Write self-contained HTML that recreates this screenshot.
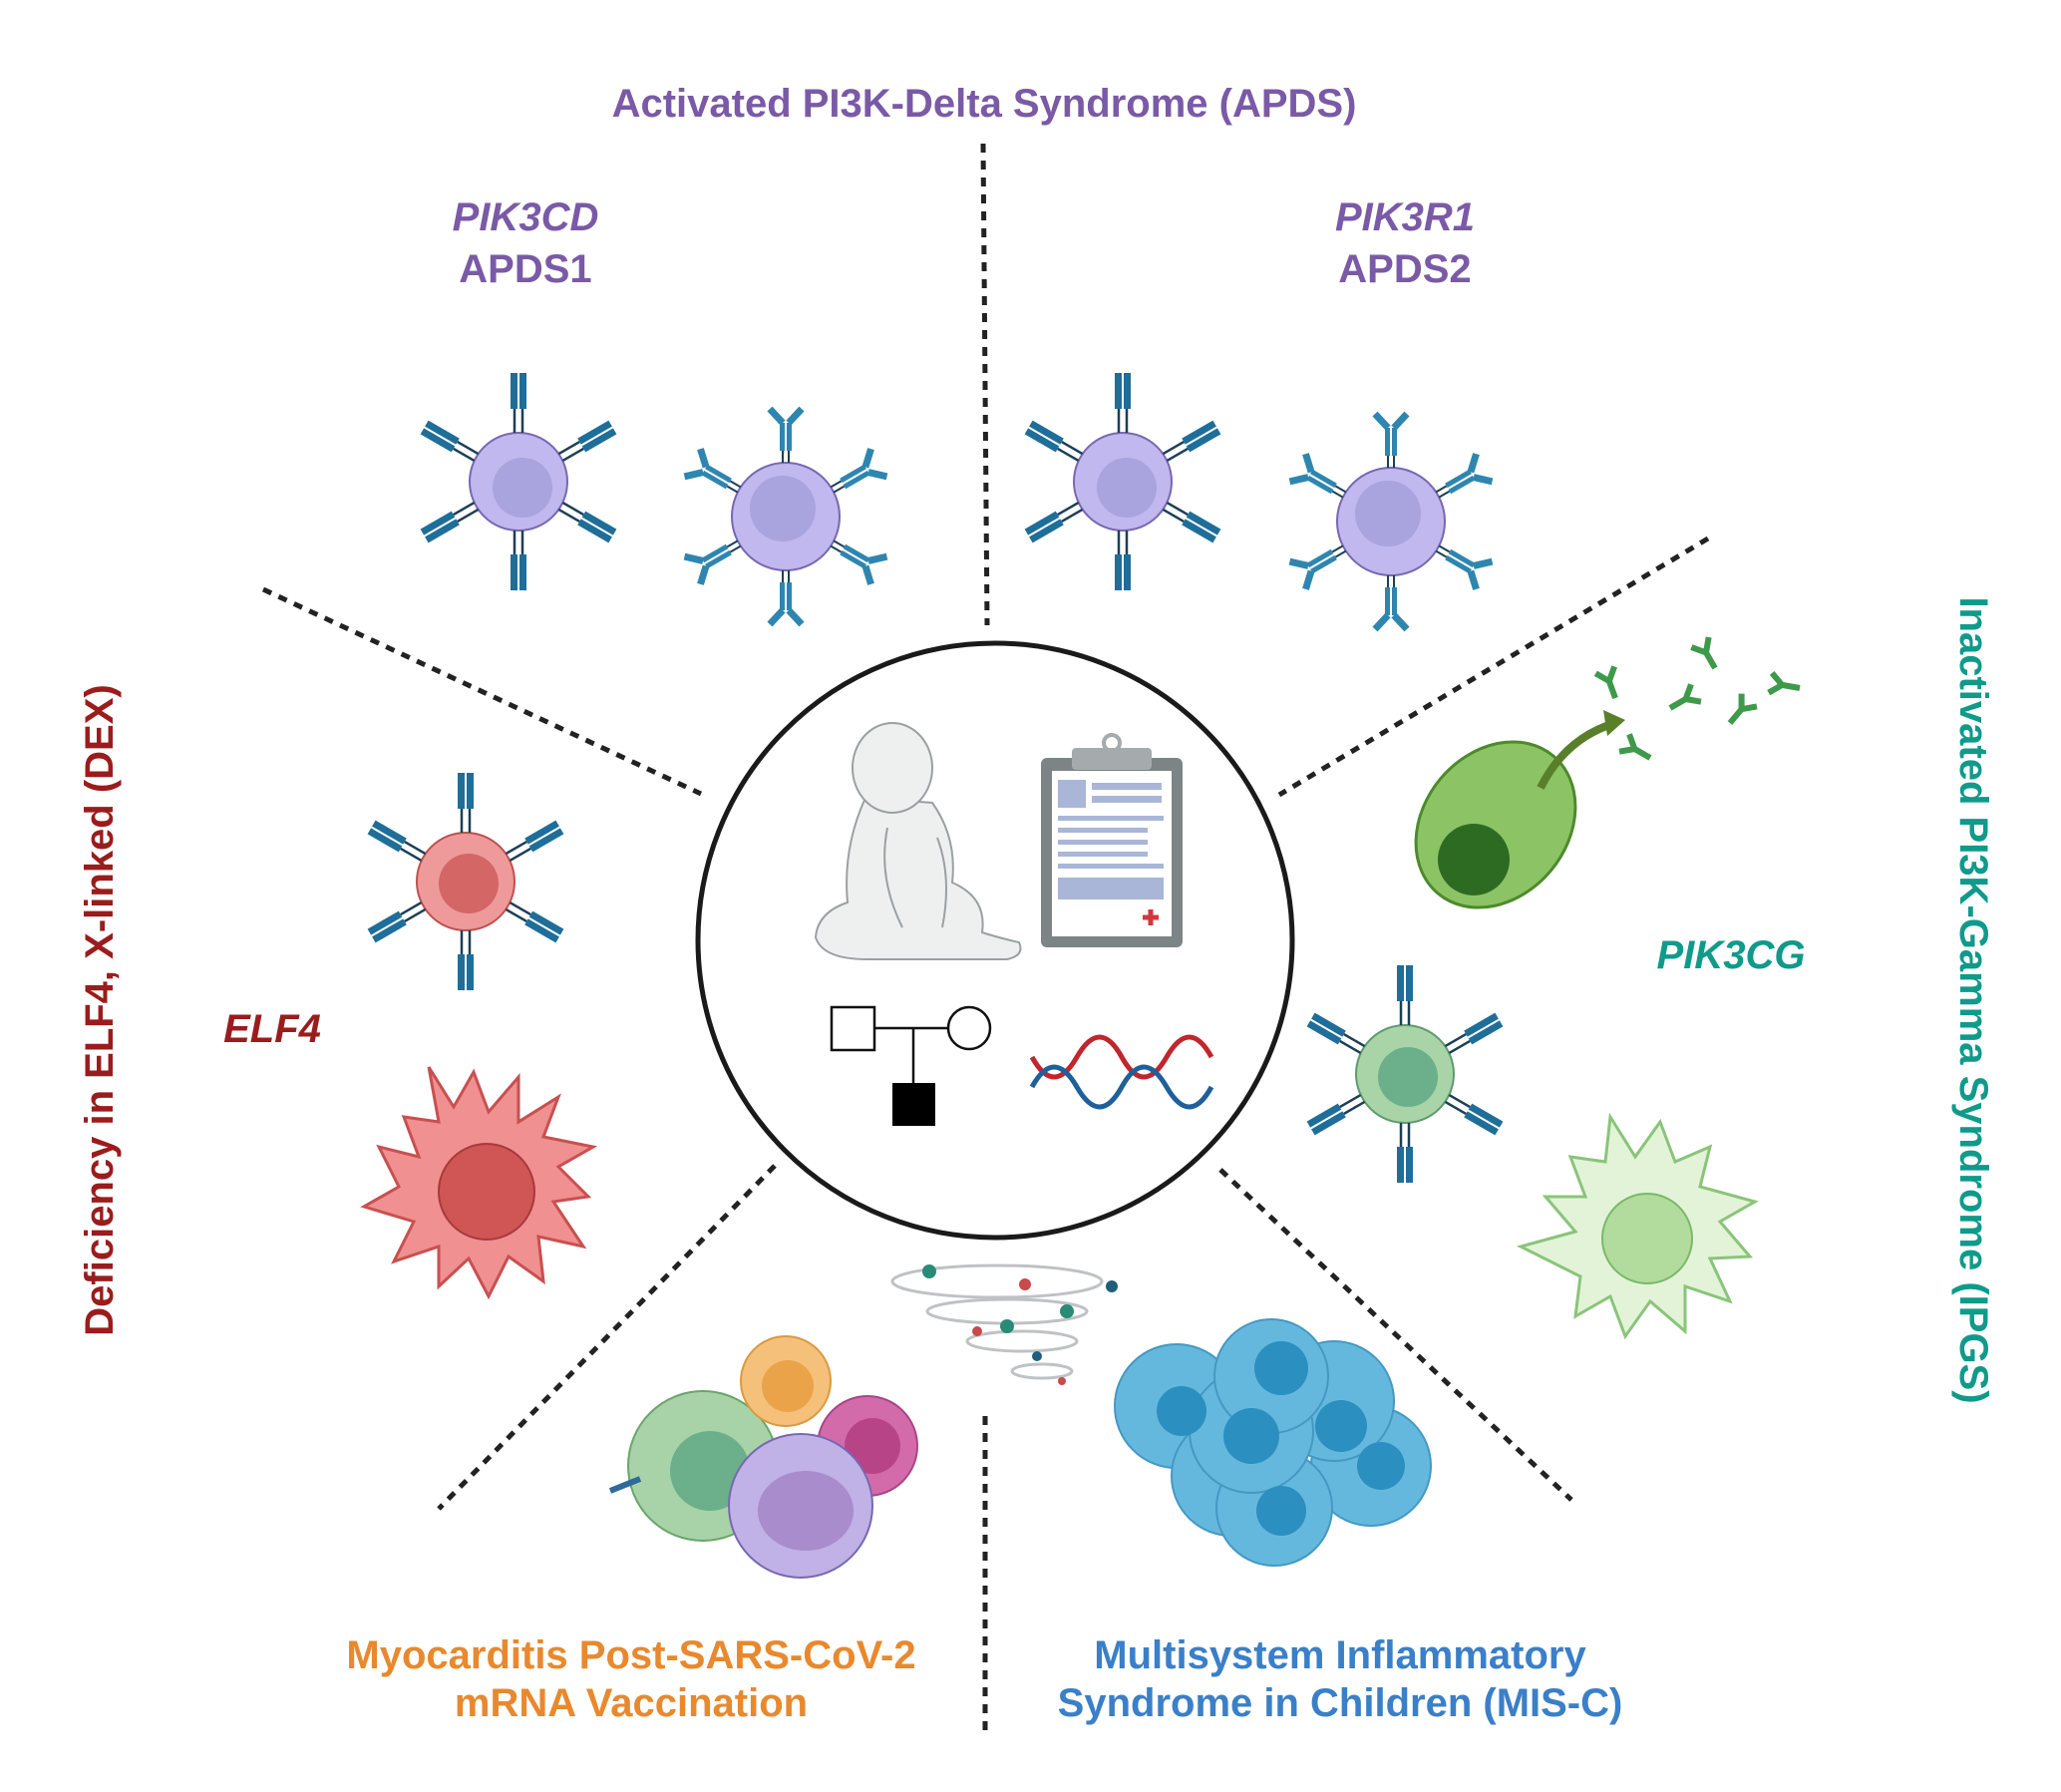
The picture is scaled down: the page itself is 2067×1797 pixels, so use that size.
<!DOCTYPE html>
<html><head><meta charset="utf-8"><style>
html,body{margin:0;padding:0;background:#fff}
svg{display:block}
text{font-family:"Liberation Sans",Arial,sans-serif;font-weight:bold}
</style></head><body>
<svg width="2067" height="1797" viewBox="0 0 2067 1797" xmlns="http://www.w3.org/2000/svg">
<defs>
<g id="abA">
 <line x1="-4" y1="0" x2="-4" y2="-24" stroke="#1d3f55" stroke-width="2.5"/>
 <line x1="4" y1="0" x2="4" y2="-24" stroke="#1d3f55" stroke-width="2.5"/>
 <rect x="-8" y="-60" width="7" height="36" fill="#1f6e99"/>
 <rect x="1" y="-60" width="7" height="36" fill="#1f6e99"/>
</g>
<g id="abB">
 <line x1="-3" y1="0" x2="-3" y2="-12" stroke="#1d3f55" stroke-width="2"/>
 <line x1="3" y1="0" x2="3" y2="-12" stroke="#1d3f55" stroke-width="2"/>
 <rect x="-6" y="-40" width="5" height="28" fill="#2e86b0"/>
 <rect x="1" y="-40" width="5" height="28" fill="#2e86b0"/>
 <path d="M-3,-40 L-16,-54 M3,-40 L16,-54" stroke="#2e86b0" stroke-width="7" fill="none"/>
</g>
<g id="abG">
 <path d="M0,0 L0,-18 M0,-18 L-10,-30 M0,-18 L10,-30" stroke="#3e9a4a" stroke-width="6" fill="none"/>
</g>
</defs>

<g stroke="#222" stroke-width="5" stroke-dasharray="9,8" fill="none">
<line x1="986" y1="144" x2="990" y2="627"/>
<line x1="988" y1="1420" x2="988" y2="1735"/>
<line x1="264" y1="591" x2="703" y2="796"/>
<line x1="1713" y1="540" x2="1283" y2="797"/>
<line x1="777" y1="1169" x2="440" y2="1513"/>
<line x1="1224" y1="1173" x2="1576" y2="1504"/>
</g>

<circle cx="998" cy="943" r="298" fill="#fff" stroke="#1a1a1a" stroke-width="5"/>

<!-- baby -->
<g fill="#eef0f0" stroke="#9aa0a2" stroke-width="2">
 <path d="M868,800 Q845,850 850,905 Q820,915 818,940 Q825,962 870,962 L1010,962 Q1028,958 1022,945 Q1000,940 985,935 Q990,900 955,885 Q960,840 935,805 Z"/>
 <ellipse cx="895" cy="770" rx="40" ry="45"/>
 <path d="M890,830 Q880,880 905,930 M940,840 Q955,880 945,930" fill="none"/>
</g>
<rect x="1044" y="760" width="142" height="190" rx="6" fill="#7d8486"/>
<rect x="1055" y="773" width="120" height="166" fill="#fff"/>
<rect x="1075" y="750" width="80" height="22" rx="4" fill="#a5aaac"/>
<circle cx="1115" cy="745" r="8" fill="none" stroke="#a5aaac" stroke-width="4"/>
<g fill="#a9b6d8">
<rect x="1061" y="782" width="28" height="28"/><rect x="1095" y="785" width="70" height="7"/><rect x="1095" y="798" width="70" height="7"/>
<rect x="1061" y="818" width="106" height="5"/><rect x="1061" y="830" width="90" height="5"/><rect x="1061" y="842" width="90" height="5"/><rect x="1061" y="854" width="90" height="5"/><rect x="1061" y="866" width="106" height="5"/>
<rect x="1061" y="880" width="106" height="22"/>
</g>
<path d="M1146,920 h16 M1154,912 v16" stroke="#d0393b" stroke-width="5"/>
<g stroke="#111" stroke-width="2.5" fill="none">
<rect x="834" y="1010" width="43" height="43" fill="#fff"/>
<circle cx="972" cy="1031" r="21" fill="#fff"/>
<line x1="877" y1="1031" x2="951" y2="1031"/>
<line x1="916" y1="1031" x2="916" y2="1086"/>
</g>
<rect x="895" y="1086" width="43" height="43" fill="#000"/>
<path d="M1035,1060 q22,40 45,0 t45,0 t45,0 t45,0" stroke="#c0262c" stroke-width="5" fill="none"/>
<path d="M1035,1090 q22,-40 45,0 t45,0 t45,0 t45,0" stroke="#1f5f9a" stroke-width="5" fill="none"/>

<g>
<circle cx="520" cy="483" r="49" fill="#c0b8ee" stroke="#7768b0" stroke-width="2"/>
<circle cx="524" cy="489" r="30" fill="#a9a3de"/>
<g transform="translate(520,483)"><g transform="rotate(0) translate(0,-49)"><use href="#abA"/></g><g transform="rotate(60) translate(0,-49)"><use href="#abA"/></g><g transform="rotate(120) translate(0,-49)"><use href="#abA"/></g><g transform="rotate(180) translate(0,-49)"><use href="#abA"/></g><g transform="rotate(240) translate(0,-49)"><use href="#abA"/></g><g transform="rotate(300) translate(0,-49)"><use href="#abA"/></g></g>
<circle cx="788" cy="518" r="54" fill="#c0b8ee" stroke="#7768b0" stroke-width="2"/>
<circle cx="785" cy="510" r="33" fill="#a9a3de"/>
<g transform="translate(788,518)"><g transform="rotate(0) translate(0,-54)"><use href="#abB"/></g><g transform="rotate(60) translate(0,-54)"><use href="#abB"/></g><g transform="rotate(120) translate(0,-54)"><use href="#abB"/></g><g transform="rotate(180) translate(0,-54)"><use href="#abB"/></g><g transform="rotate(240) translate(0,-54)"><use href="#abB"/></g><g transform="rotate(300) translate(0,-54)"><use href="#abB"/></g></g>
<circle cx="1126" cy="483" r="49" fill="#c0b8ee" stroke="#7768b0" stroke-width="2"/>
<circle cx="1130" cy="489" r="30" fill="#a9a3de"/>
<g transform="translate(1126,483)"><g transform="rotate(0) translate(0,-49)"><use href="#abA"/></g><g transform="rotate(60) translate(0,-49)"><use href="#abA"/></g><g transform="rotate(120) translate(0,-49)"><use href="#abA"/></g><g transform="rotate(180) translate(0,-49)"><use href="#abA"/></g><g transform="rotate(240) translate(0,-49)"><use href="#abA"/></g><g transform="rotate(300) translate(0,-49)"><use href="#abA"/></g></g>
<circle cx="1395" cy="523" r="54" fill="#c0b8ee" stroke="#7768b0" stroke-width="2"/>
<circle cx="1392" cy="515" r="33" fill="#a9a3de"/>
<g transform="translate(1395,523)"><g transform="rotate(0) translate(0,-54)"><use href="#abB"/></g><g transform="rotate(60) translate(0,-54)"><use href="#abB"/></g><g transform="rotate(120) translate(0,-54)"><use href="#abB"/></g><g transform="rotate(180) translate(0,-54)"><use href="#abB"/></g><g transform="rotate(240) translate(0,-54)"><use href="#abB"/></g><g transform="rotate(300) translate(0,-54)"><use href="#abB"/></g></g>
</g>

<circle cx="467" cy="884" r="49" fill="#ee9a9a" stroke="#c05050" stroke-width="2"/>
<circle cx="470" cy="886" r="30" fill="#d46666"/>
<g transform="translate(467,884)"><g transform="rotate(0) translate(0,-49)"><use href="#abA"/></g><g transform="rotate(60) translate(0,-49)"><use href="#abA"/></g><g transform="rotate(120) translate(0,-49)"><use href="#abA"/></g><g transform="rotate(180) translate(0,-49)"><use href="#abA"/></g><g transform="rotate(240) translate(0,-49)"><use href="#abA"/></g><g transform="rotate(300) translate(0,-49)"><use href="#abA"/></g></g>
<path d="M430,1070 L455,1110 L475,1075 L490,1115 L520,1080 L520,1125 L560,1100 L545,1140 L595,1150 L560,1170 L590,1200 L555,1205 L585,1250 L540,1240 L545,1285 L510,1260 L490,1300 L470,1262 L440,1290 L440,1250 L395,1265 L415,1225 L365,1210 L400,1190 L380,1150 L420,1160 L405,1120 L440,1125 Z" fill="#f09090" stroke="#c85050" stroke-width="3"/>
<circle cx="488" cy="1195" r="48" fill="#d05555" stroke="#a83a3a" stroke-width="2"/>

<ellipse cx="1500" cy="827" rx="72" ry="90" transform="rotate(40 1500 827)" fill="#8cc465" stroke="#4d8a2c" stroke-width="3"/>
<circle cx="1478" cy="862" r="36" fill="#2e6b22"/>
<path d="M1545,790 Q1570,740 1620,725" stroke="#5a7f2a" stroke-width="8" fill="none"/>
<path d="M1630,722 L1608,712 L1612,738 Z" fill="#5a7f2a"/>
<g>
<g transform="translate(1620,700) rotate(-20)"><use href="#abG"/></g>
<g transform="translate(1675,710) rotate(60)"><use href="#abG"/></g>
<g transform="translate(1720,670) rotate(-30)"><use href="#abG"/></g>
<g transform="translate(1655,760) rotate(-60)"><use href="#abG"/></g>
<g transform="translate(1735,725) rotate(40)"><use href="#abG"/></g>
<g transform="translate(1805,690) rotate(-80)"><use href="#abG"/></g>
</g>
<circle cx="1409" cy="1077" r="49" fill="#a8d4a8" stroke="#5d9a6d" stroke-width="2"/>
<circle cx="1412" cy="1080" r="30" fill="#6bb08a"/>
<g transform="translate(1409,1077)"><g transform="rotate(0) translate(0,-49)"><use href="#abA"/></g><g transform="rotate(60) translate(0,-49)"><use href="#abA"/></g><g transform="rotate(120) translate(0,-49)"><use href="#abA"/></g><g transform="rotate(180) translate(0,-49)"><use href="#abA"/></g><g transform="rotate(240) translate(0,-49)"><use href="#abA"/></g><g transform="rotate(300) translate(0,-49)"><use href="#abA"/></g></g>
<path d="M1615,1120 L1640,1160 L1665,1125 L1680,1165 L1715,1150 L1705,1190 L1760,1205 L1725,1225 L1755,1260 L1715,1262 L1735,1305 L1690,1290 L1690,1335 L1655,1305 L1630,1340 L1615,1300 L1580,1320 L1585,1280 L1525,1250 L1580,1235 L1550,1200 L1590,1200 L1575,1160 L1610,1165 Z" fill="#e3f3d8" stroke="#8ac47a" stroke-width="3"/>
<circle cx="1652" cy="1242" r="45" fill="#b2dc9d" stroke="#7ab86a" stroke-width="2"/>

<g fill="none" stroke="#bfc2c4" stroke-width="3">
<ellipse cx="1000" cy="1285" rx="105" ry="16"/>
<ellipse cx="1010" cy="1315" rx="80" ry="12"/>
<ellipse cx="1025" cy="1345" rx="55" ry="10"/>
<ellipse cx="1045" cy="1375" rx="30" ry="7"/>
</g>
<g>
<circle cx="932" cy="1275" r="7" fill="#2a8a78"/><circle cx="1028" cy="1288" r="6" fill="#c84a4a"/><circle cx="1115" cy="1290" r="6" fill="#1f5f7a"/>
<circle cx="1010" cy="1330" r="7" fill="#2a8a78"/><circle cx="1070" cy="1315" r="7" fill="#2a8a78"/><circle cx="980" cy="1335" r="5" fill="#c84a4a"/>
<circle cx="1040" cy="1360" r="5" fill="#1f5f7a"/><circle cx="1065" cy="1385" r="4" fill="#c84a4a"/>
</g>
<g fill="#5db5dc" stroke="#3b93c0" stroke-width="2" opacity="0.95">
<circle cx="1180" cy="1410" r="62"/>
<circle cx="1235" cy="1480" r="60"/>
<circle cx="1375" cy="1470" r="60"/>
<circle cx="1338" cy="1405" r="60"/>
<circle cx="1278" cy="1512" r="58"/>
<circle cx="1255" cy="1435" r="62"/>
<circle cx="1275" cy="1380" r="57"/>
</g>
<g fill="#2b8fc0"><circle cx="1285" cy="1372" r="27"/><circle cx="1255" cy="1440" r="28"/><circle cx="1345" cy="1430" r="26"/><circle cx="1185" cy="1415" r="25"/><circle cx="1285" cy="1515" r="25"/><circle cx="1385" cy="1470" r="24"/></g>

<circle cx="705" cy="1470" r="75" fill="#a8d3a8" stroke="#6aa56a" stroke-width="2"/>
<circle cx="712" cy="1475" r="40" fill="#6bb08a"/>
<circle cx="788" cy="1385" r="45" fill="#f5c07a" stroke="#d99a40" stroke-width="2"/>
<circle cx="790" cy="1390" r="26" fill="#eba34a"/>
<circle cx="870" cy="1450" r="50" fill="#d36bab" stroke="#a84586" stroke-width="2"/>
<circle cx="875" cy="1450" r="28" fill="#b84488"/>
<circle cx="803" cy="1510" r="72" fill="#c0b1e6" stroke="#7768b0" stroke-width="2"/>
<ellipse cx="808" cy="1515" rx="48" ry="40" fill="#a88ccc"/>
<path d="M612,1495 l30,-12" stroke="#2e6a9a" stroke-width="6"/>

<text x="987" y="117" text-anchor="middle" font-size="40" fill="#7a5aa6">Activated PI3K-Delta Syndrome (APDS)</text>
<text x="527" y="231" text-anchor="middle" font-size="40" fill="#7a5aa6" font-style="italic">PIK3CD</text>
<text x="527" y="283" text-anchor="middle" font-size="40" fill="#7a5aa6">APDS1</text>
<text x="1409" y="231" text-anchor="middle" font-size="40" fill="#7a5aa6" font-style="italic">PIK3R1</text>
<text x="1409" y="283" text-anchor="middle" font-size="40" fill="#7a5aa6">APDS2</text>
<text x="273" y="1045" text-anchor="middle" font-size="40" fill="#9a1c1c" font-style="italic">ELF4</text>
<text x="1736" y="971" text-anchor="middle" font-size="40" fill="#0f9a8a" font-style="italic">PIK3CG</text>
<text transform="translate(113,1013) rotate(-90)" text-anchor="middle" font-size="40" fill="#9a1c1c">Deficiency in ELF4, X-linked (DEX)</text>
<text transform="translate(1966,1003) rotate(90)" text-anchor="middle" font-size="40" fill="#0f9a8a">Inactivated PI3K-Gamma Syndrome (IPGS)</text>
<text x="633" y="1673" text-anchor="middle" font-size="40" fill="#e8892e">Myocarditis Post-SARS-CoV-2</text>
<text x="633" y="1721" text-anchor="middle" font-size="40" fill="#e8892e">mRNA Vaccination</text>
<text x="1344" y="1673" text-anchor="middle" font-size="40" fill="#3a7fc8">Multisystem Inflammatory</text>
<text x="1344" y="1721" text-anchor="middle" font-size="40" fill="#3a7fc8">Syndrome in Children (MIS-C)</text>
</svg>
</body></html>
